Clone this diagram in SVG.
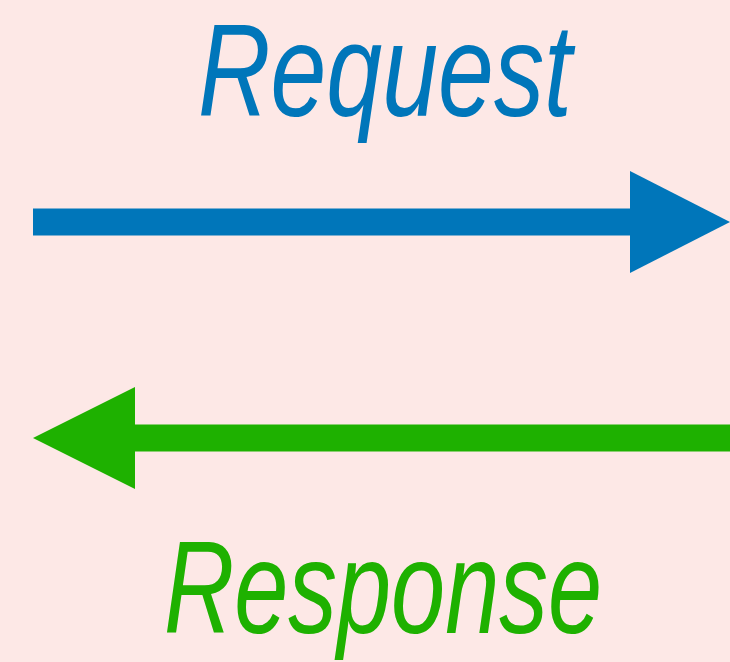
<svg xmlns="http://www.w3.org/2000/svg" width="730" height="662" viewBox="0 0 730 662">
  <style>
    .label { font-family: "Liberation Sans", "Roboto", sans-serif; font-style: italic; font-size: 132px; }
    .req { fill: #0076ba; }
    .res { fill: #1eb100; }
  </style>
  <rect width="730" height="662" fill="#fde8e6"/>

  <g id="request">
    <text class="label req" x="198" y="116" textLength="374" lengthAdjust="spacingAndGlyphs">Request</text>
  </g>

  <g id="response">
    <text class="label res" x="164" y="633" textLength="438" lengthAdjust="spacingAndGlyphs">Response</text>
  </g>

  <g id="connectors">
    <!-- request: left to right -->
    <rect class="req" x="33" y="208.5" width="598" height="27"/>
    <polygon class="req" points="630,171 730,222 630,273"/>
    <!-- response: right to left -->
    <rect class="res" x="134" y="424.5" width="596" height="27"/>
    <polygon class="res" points="135,387 33,438 135,489"/>
  </g>
</svg>
